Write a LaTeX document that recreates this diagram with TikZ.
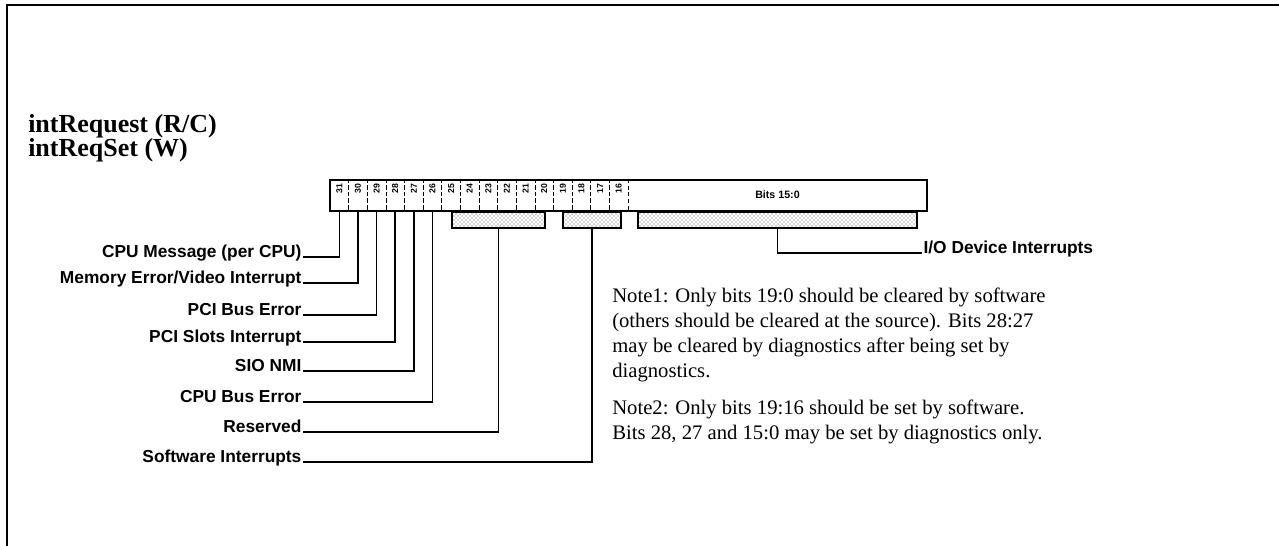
\documentclass[tikz,border=0pt]{standalone}
\usepackage{fontspec}
\setmainfont{Liberation Serif}
\setsansfont{Liberation Sans}
\usetikzlibrary{patterns}

\begin{document}
\begin{tikzpicture}[
    x=0.75pt, y=-0.75pt,
    sigtext/.style = {font=\sffamily\bfseries\fontsize{13}{14}\selectfont,
                      anchor=base east, inner sep=1pt},
    bitcell/.style = {draw, densely dashed, line width=0.5pt,
                      minimum width=13.97pt, minimum height=23.25pt, inner sep=0pt},
    bitno/.style = {font=\sffamily\bfseries\fontsize{6.5}{7}\selectfont,
                    rotate=90, anchor=east, inner sep=0pt},
    shadebar/.style = {draw, line width=0.8pt, minimum height=12pt, inner sep=0pt,
                       preaction={fill=white}, pattern=crosshatch dots,
                       pattern color=black!70},
    wire/.style = {line width=1.1pt},
    heading/.style = {font=\bfseries\fontsize{19.5}{19.5}\selectfont,
                      anchor=base west, inner sep=0pt},
    note/.style = {font=\fontsize{15.5}{18.75}\selectfont, align=left,
                   anchor=north west, inner sep=0pt}
  ]

  \useasboundingbox (0,0) rectangle (1279,546);

  % frame
  \draw[line width=1.5pt] (7,546) -- (7,5) -- (1279,5);

  % register name
  \node[heading] (title) at (28,132) {intRequest (R/C)};
  \node[heading] (titleb) at (28,156) {intReqSet (W)};

  % bit cells 31..16
  \foreach \i in {0,...,15}{
    \pgfmathtruncatemacro\b{31-\i}
    \node[bitcell] (b\b) at ({330+18.625*(\i+0.5)},195.5) {};
    \node[bitno] at ([yshift=-3pt]b\b.north) {\b};
  }
  \draw[line width=1pt] (330,180) rectangle (927,211);
  \draw[line width=1.6pt] (330,211) -- (927,211);
  \node[font=\sffamily\bfseries\fontsize{8}{9}\selectfont] (low) at (777.5,195) {Bits 15:0};

  % shaded fields
  \node[shadebar, minimum width=69.75pt] (rsv) at (498.5,220) {};
  \node[shadebar, minimum width=43.5pt] (swi) at (592,220) {};
  \node[shadebar, minimum width=209.25pt] (iod) at (777.5,220) {};

  % signal names
  \node[sigtext] (cpumsg) at (303,257) {CPU Message (per CPU)};
  \node[sigtext] (memerr) at (303,283) {Memory Error/Video Interrupt};
  \node[sigtext] (pcibus) at (303,315) {PCI Bus Error};
  \node[sigtext] (pcislot) at (303,342) {PCI Slots Interrupt};
  \node[sigtext] (sionmi) at (303,371) {SIO NMI};
  \node[sigtext] (cpubus) at (303,402) {CPU Bus Error};
  \node[sigtext] (resvd) at (303,432) {Reserved};
  \node[sigtext] (swint) at (303,462) {Software Interrupts};
  \node[sigtext, anchor=base west] (iolbl) at (922,253) {I/O Device Interrupts};

  \draw[wire] (cpumsg.base east) -| (b31.south);
  \draw[wire] (memerr.base east) -| (b30.south);
  \draw[wire] (pcibus.base east) -| (b29.south);
  \draw[wire] (pcislot.base east) -| (b28.south);
  \draw[wire] (sionmi.base east) -| (b27.south);
  \draw[wire] (cpubus.base east) -| (b26.south);
  \draw[wire] (resvd.base east) -| (rsv.south);
  \draw[wire] (swint.base east) -| (swi.south);
  \draw[wire] (iod.south) |- (iolbl.base west);

  % notes
  \node[note] (note1) at (612,288) {Note1: Only bits 19:0 should be cleared by software\\
    (others should be cleared at the source). Bits 28:27\\
    may be cleared by diagnostics after being set by\\
    diagnostics.};
  \node[note] (note2) at (612,400) {Note2: Only bits 19:16 should be set by software.\\
    Bits 28, 27 and 15:0 may be set by diagnostics only.};
\end{tikzpicture}
\end{document}
